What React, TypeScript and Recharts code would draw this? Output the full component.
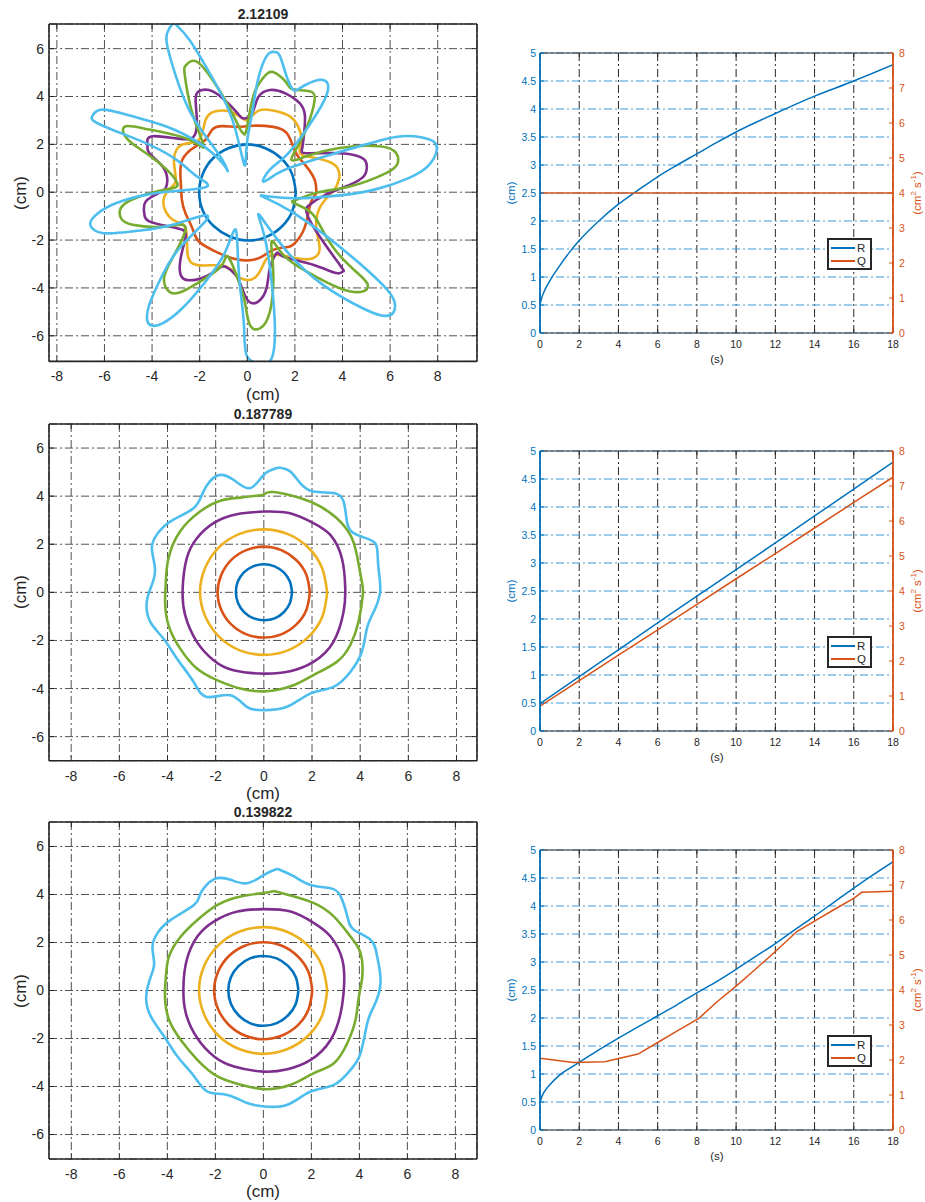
import React from "react";
import { LineChart, Line, XAxis, YAxis, CartesianGrid } from "recharts";

type Pt = [number, number];

const C = ["#0072BD", "#D95319", "#EDB120", "#7E2F8E", "#77AC30", "#4DBEEE"];
const INK = "#262626";
const FONT = "'Liberation Sans', Arial, Helvetica, sans-serif";

// ---- left column: outlines (cm) ----
const TITLES = ["2.12109", "0.187789", "0.139822"];
const XT_SHAPE = [-8, -6, -4, -2, 0, 2, 4, 6, 8];
const YT_SHAPE = [-6, -4, -2, 0, 2, 4, 6];

const TOP_BLUE_R = [2.04, 2.03, 2.01, 1.99, 2.0, 2.0, 2.02, 2.02, 2.02, 2.02, 2.0, 1.99, 2.02, 2.03, 2.04, 2.05];
const TOP_ORANGE: Pt[] = [
  [2.9, -0.04], [2.83, 0.52], [2.48, 1.08], [2.13, 1.5], [1.92, 1.92], [1.65, 2.48], [1.09, 2.73],
  [0.25, 2.78], [-0.36, 2.73], [-1.05, 2.76], [-1.47, 2.62], [-1.75, 2.2], [-2.17, 1.92], [-2.73, 1.36],
  [-2.8, 0.52], [-2.75, -0.3], [-2.59, -0.9], [-2.31, -1.5], [-2.03, -2.06], [-1.33, -2.48], [-0.64, -2.76],
  [0.04, -2.85], [0.6, -2.7], [1.09, -2.41], [1.6, -2.3], [1.92, -2.2], [2.34, -1.64], [2.55, -0.94], [2.69, -0.38],
];
const TOP_YELLOW: Pt[] = [
  [3.88, 0.66], [3.74, 1.08], [3.18, 1.36], [2.48, 1.5], [2.2, 1.71], [2.27, 2.2], [2.13, 2.76], [1.79, 3.17],
  [1.23, 3.38], [0.53, 3.43], [0.06, 3.05], [-0.22, 3.1], [-0.78, 3.38], [-1.33, 3.38], [-1.75, 3.03],
  [-2.03, 2.2], [-2.73, 1.99], [-3.08, 1.36], [-3.0, 0.52], [-3.22, 0.18], [-3.5, -0.24], [-3.43, -0.8],
  [-3.0, -1.22], [-2.59, -1.5], [-2.52, -2.48], [-2.31, -2.97], [-1.75, -3.06], [-0.9, -3.1], [-0.4, -3.5],
  [0.04, -3.67], [0.4, -3.5], [0.67, -3.03], [1.09, -2.62], [2.06, -2.76], [2.76, -2.76], [3.04, -2.34],
  [2.9, -1.5], [3.04, -0.66], [3.46, -0.11], [3.74, 0.24],
];
const TOP_PURPLE: Pt[] = [
  [4.3, 0.3], [4.85, 0.62], [5.02, 1.0], [4.92, 1.36], [4.43, 1.57], [3.6, 1.64], [2.49, 1.63], [2.3, 1.8],
  [2.38, 2.4], [2.42, 3.2], [2.2, 3.72], [1.6, 4.13], [0.95, 4.27], [0.45, 3.95], [0.2, 3.3], [-0.17, 3.08],
  [-0.45, 3.35], [-1.05, 3.94], [-1.61, 4.27], [-2.03, 4.22], [-2.17, 3.87], [-2.12, 3.03], [-2.2, 2.4],
  [-2.73, 2.22], [-3.98, 2.34], [-4.19, 1.99], [-4.12, 1.64], [-3.56, 1.08], [-3.36, 0.52], [-3.43, 0.17],
  [-3.7, -0.03], [-4.26, -0.38], [-4.33, -0.87], [-4.12, -1.22], [-3.29, -1.43], [-2.7, -1.58], [-2.6, -1.92],
  [-2.8, -2.76], [-2.8, -3.45], [-2.45, -3.68], [-1.75, -3.52], [-1.19, -3.17], [-0.9, -3.12], [-0.5, -3.45],
  [-0.22, -4.01], [0.05, -4.55], [0.46, -4.57], [0.81, -4.01], [0.95, -3.17], [1.23, -2.55], [1.51, -2.69],
  [2.76, -3.03], [3.74, -3.38], [4.02, -3.31], [3.88, -3.03], [2.9, -1.64], [2.48, -0.8], [2.62, -0.52], [3.2, -0.15],
];
const TOP_GREEN: Pt[] = [
  [1.85, -0.4], [3.0, 0.0], [4.3, 0.24], [5.83, 0.8], [6.32, 1.22], [6.25, 1.64], [5.55, 1.92], [3.88, 1.85],
  [2.48, 1.5], [1.85, 1.36], [2.2, 2.06], [2.62, 3.03], [2.83, 3.87], [2.62, 4.22], [1.92, 4.29], [1.65, 4.57],
  [1.09, 5.02], [0.67, 4.78], [0.25, 4.01], [-0.03, 2.62], [-0.15, 2.45], [-0.29, 2.62], [-0.78, 3.59],
  [-1.47, 4.71], [-2.15, 5.47], [-2.58, 5.3], [-2.62, 4.85], [-2.31, 3.31], [-1.82, 1.92], [-2.45, 2.2],
  [-4.12, 2.62], [-5.1, 2.76], [-5.17, 2.41], [-4.68, 1.92], [-3.7, 1.22], [-2.94, 0.38], [-3.43, 0.11],
  [-4.68, -0.24], [-5.31, -0.66], [-5.31, -1.08], [-4.82, -1.36], [-3.43, -1.43], [-2.59, -1.5], [-3.15, -2.76],
  [-3.5, -3.59], [-3.29, -4.15], [-2.73, -4.15], [-1.75, -3.59], [-1.05, -3.03], [-0.8, -2.7], [-0.36, -3.73],
  [-0.08, -4.71], [0.11, -5.55], [0.53, -5.69], [0.95, -4.99], [1.09, -3.31], [1.02, -2.06], [1.51, -2.62],
  [2.48, -3.31], [3.88, -4.01], [4.85, -4.15], [5.06, -3.87], [4.71, -3.45], [3.74, -2.48], [3.04, -1.36], [2.62, -0.8],
];
const TOP_LIGHT: Pt[] = [
  [0.53, -0.13], [2.0, -0.25], [4.0, -0.12], [5.5, 0.15], [6.8, 0.6], [7.6, 1.1], [7.95, 1.7], [7.85, 2.1],
  [7.3, 2.3], [6.3, 2.32], [5.0, 2.0], [3.6, 1.6], [2.0, 1.1], [1.2, 0.75], [0.67, 0.44], [0.95, 0.94],
  [1.65, 1.55], [2.48, 2.62], [3.25, 3.87], [3.39, 4.5], [3.25, 4.67], [2.97, 4.69], [2.48, 4.5], [2.13, 4.3],
  [1.92, 4.29], [1.65, 4.85], [1.37, 5.69], [1.16, 5.86], [0.95, 5.83], [0.67, 5.41], [0.39, 4.43], [0.18, 3.17],
  [-0.03, 1.92], [-0.12, 1.14], [-0.5, 2.62], [-1.05, 4.01], [-1.75, 5.27], [-2.45, 6.39], [-2.94, 6.95],
  [-3.15, 7.02], [-3.36, 6.67], [-3.36, 6.11], [-3.0, 4.85], [-2.45, 3.45], [-1.75, 2.34], [-1.05, 1.36],
  [-0.82, 0.88], [-1.05, 1.22], [-2.03, 2.06], [-3.43, 2.76], [-4.82, 3.17], [-6.08, 3.45], [-6.5, 3.2],
  [-6.43, 2.96], [-5.52, 2.55], [-4.12, 1.99], [-2.9, 1.3], [-2.1, 0.65], [-1.7, 0.23], [-3.0, 0.05],
  [-4.2, -0.1], [-5.5, -0.45], [-6.3, -0.9], [-6.6, -1.3], [-6.4, -1.6], [-5.8, -1.72], [-4.5, -1.6],
  [-3.1, -1.35], [-1.65, -1.0], [-2.73, -2.2], [-3.56, -3.45], [-4.12, -4.71], [-4.19, -5.41], [-3.98, -5.58],
  [-3.56, -5.48], [-2.73, -4.85], [-1.75, -3.73], [-0.92, -2.48], [-0.48, -1.57], [-0.36, -3.31], [-0.15, -5.41],
  [-0.03, -6.81], [0.53, -7.16], [1.02, -6.95], [1.16, -5.69], [1.02, -3.73], [0.74, -1.92], [0.46, -0.94],
  [0.81, -1.36], [1.79, -2.62], [3.18, -3.87], [4.85, -4.85], [5.69, -5.16], [6.11, -5.06], [6.18, -4.57],
  [5.69, -3.87], [4.3, -2.62], [2.48, -1.22], [1.3, -0.5],
];

const MID_BLUE_R = [1.17, 1.17, 1.17, 1.17, 1.17, 1.17, 1.17, 1.17, 1.16, 1.16, 1.16, 1.16, 1.16, 1.17, 1.17, 1.17];
const MID_ORANGE_R = [1.91, 1.91, 1.9, 1.9, 1.9, 1.9, 1.91, 1.91, 1.92, 1.91, 1.9, 1.89, 1.88, 1.89, 1.9, 1.91];
const MID_YELLOW_R = [2.63, 2.62, 2.62, 2.62, 2.62, 2.63, 2.64, 2.64, 2.65, 2.63, 2.62, 2.61, 2.6, 2.61, 2.62, 2.63];
const MID_PURPLE: Pt[] = [
  [0.06, 3.36], [1.09, 3.29], [2.06, 2.88], [2.76, 2.39], [3.24, 1.42], [3.38, 0.17], [3.31, -0.81],
  [2.89, -2.06], [2.06, -2.89], [1.09, -3.28], [0, -3.38], [-1.26, -3.24], [-2.09, -2.82], [-2.78, -2.06],
  [-3.27, -0.94], [-3.37, 0.17], [-3.2, 1.42], [-2.78, 2.25], [-2.09, 2.88], [-1.12, 3.25],
];
const MID_GREEN: Pt[] = [
  [0, 4.06], [0.4, 4.17], [1.51, 3.92], [2.34, 3.57], [3.03, 3.08], [3.59, 2.39], [3.86, 1.56], [4.07, 0.44],
  [4.11, -0.11], [3.93, -1.22], [3.59, -2.19], [3.03, -2.89], [2.06, -3.44], [1.23, -3.86], [0.12, -4.11],
  [-0.98, -4.0], [-1.95, -3.65], [-2.78, -3.17], [-3.48, -2.33], [-3.96, -1.36], [-4.1, -0.39], [-4.07, 0.44],
  [-3.96, 1.42], [-3.48, 2.53], [-2.65, 3.36], [-1.81, 3.81], [-0.98, 3.94],
];
const MID_LIGHT: Pt[] = [
  [0.61, 5.19], [0, 4.89], [-0.57, 4.33], [-1.26, 4.68], [-1.95, 4.85], [-2.51, 4.19], [-2.92, 3.5],
  [-3.89, 2.94], [-4.45, 2.39], [-4.65, 1.83], [-4.52, 1.0], [-4.65, 0.31], [-4.86, -0.39], [-4.72, -1.22],
  [-4.17, -1.92], [-3.61, -2.75], [-2.92, -3.72], [-2.37, -4.35], [-1.4, -4.28], [-0.71, -4.76], [0, -4.9],
  [0.96, -4.76], [1.93, -4.21], [2.89, -3.93], [3.59, -3.31], [4.07, -2.47], [4.28, -1.5], [4.56, -0.81],
  [4.83, 0.03], [4.76, 1.0], [4.7, 1.83], [4.42, 2.18], [3.73, 2.46], [3.45, 2.94], [3.31, 3.78], [2.89, 4.13],
  [2.06, 4.19], [1.51, 4.54], [1.09, 5.03],
];

const BOT_BLUE_R = [1.46, 1.46, 1.45, 1.45, 1.44, 1.45, 1.45, 1.46, 1.46, 1.46, 1.46, 1.47, 1.47, 1.47, 1.46, 1.46];
const BOT_ORANGE_R = [2.04, 2.03, 2.02, 2.02, 2.01, 2.02, 2.03, 2.04, 2.05, 2.04, 2.03, 2.03, 2.03, 2.03, 2.04, 2.04];
const BOT_YELLOW_R = [2.66, 2.65, 2.64, 2.64, 2.64, 2.65, 2.66, 2.67, 2.68, 2.66, 2.65, 2.64, 2.64, 2.64, 2.65, 2.66];
const BOT_PURPLE: Pt[] = [
  [0, 3.39], [1.14, 3.29], [2.11, 2.81], [2.8, 2.25], [3.29, 1.28], [3.36, 0.17], [3.22, -0.94], [2.8, -2.06],
  [1.97, -2.89], [1.0, -3.28], [0, -3.38], [-1.22, -3.17], [-2.05, -2.75], [-2.75, -1.99], [-3.23, -0.94],
  [-3.33, 0.17], [-3.19, 1.28], [-2.75, 2.25], [-2.05, 2.88], [-1.08, 3.29],
];
const BOT_GREEN: Pt[] = [
  [0.44, 4.15], [0, 4.06], [-0.94, 3.92], [-1.91, 3.57], [-2.75, 2.94], [-3.44, 2.25], [-3.93, 1.42],
  [-4.06, 0.58], [-4.1, -0.25], [-3.93, -1.22], [-3.44, -2.06], [-2.75, -2.89], [-1.91, -3.58], [-0.94, -3.93],
  [0.03, -4.11], [1.14, -3.93], [2.11, -3.44], [2.94, -3.03], [3.5, -2.19], [3.84, -1.22], [3.98, -0.25],
  [4.12, 0.58], [4.05, 1.56], [3.63, 2.25], [2.94, 3.08], [2.11, 3.64], [1.28, 3.92],
];
const BOT_LIGHT: Pt[] = [
  [0.58, 5.07], [0.03, 4.82], [-0.67, 4.47], [-1.36, 4.61], [-2.05, 4.64], [-2.61, 4.06], [-2.88, 3.57],
  [-3.86, 2.94], [-4.41, 2.39], [-4.62, 1.83], [-4.55, 1.14], [-4.69, 0.58], [-4.88, -0.25], [-4.69, -1.08],
  [-4.13, -1.92], [-3.58, -2.75], [-2.88, -3.58], [-2.33, -4.21], [-1.5, -4.35], [-0.67, -4.69], [0.03, -4.83],
  [1.0, -4.76], [1.97, -4.21], [2.94, -3.93], [3.63, -3.31], [4.05, -2.61], [4.33, -1.36], [4.6, -0.67],
  [4.88, 0.31], [4.74, 1.42], [4.47, 2.11], [3.77, 2.53], [3.5, 3.08], [3.22, 3.92], [2.8, 4.26], [1.97, 4.4],
  [1.28, 4.75],
];

// ---- right column: R (cm) and Q (cm^2 s^-1) against time (s) ----
const XT_TIME = [0, 2, 4, 6, 8, 10, 12, 14, 16, 18];
const YT_R = [0, 0.5, 1, 1.5, 2, 2.5, 3, 3.5, 4, 4.5, 5];
const YT_Q = [0, 1, 2, 3, 4, 5, 6, 7, 8];

const T1 = [0, 0.1, 0.25, 0.5, 1, 1.5, 2, 3, 4, 5, 6, 7, 8, 9, 10, 12, 14, 16, 18];
const R1 = [0.5, 0.64, 0.77, 0.93, 1.2, 1.44, 1.65, 2.0, 2.3, 2.55, 2.79, 3.0, 3.2, 3.4, 3.59, 3.92, 4.23, 4.5, 4.79];
const QT1 = [0, 18];
const Q1 = [4, 4];

const T2 = [0, 2, 4, 6, 8, 10, 12, 14, 16, 18];
const R2 = [0.49, 0.97, 1.45, 1.93, 2.41, 2.88, 3.36, 3.84, 4.32, 4.8];
const Q2 = [0.71, 1.44, 2.17, 2.89, 3.62, 4.35, 5.07, 5.8, 6.53, 7.25];

const T3 = [0, 0.1, 0.25, 0.5, 1, 1.5, 2, 3, 4, 5, 6, 7, 8, 9, 10, 11, 12, 13, 14, 15, 16, 17, 18];
const R3 = [0.5, 0.6, 0.7, 0.81, 0.98, 1.1, 1.21, 1.43, 1.64, 1.84, 2.04, 2.24, 2.45, 2.65, 2.87, 3.1, 3.33, 3.58, 3.82, 4.07, 4.32, 4.56, 4.79];
const QT3 = [0, 1.7, 3.3, 5, 6, 7, 8.1, 9, 10, 11, 12, 13.1, 14, 15, 16, 16.4, 18];
const Q3 = [2.05, 1.93, 1.95, 2.17, 2.5, 2.83, 3.19, 3.65, 4.11, 4.6, 5.1, 5.67, 5.97, 6.3, 6.62, 6.79, 6.82];

// radii read at evenly spaced angles -> points
const ring = (r: number[]): Pt[] =>
  r.map((v, i) => {
    const a = (2 * Math.PI * i) / r.length;
    return [v * Math.cos(a), v * Math.sin(a)] as Pt;
  });
const closed = (p: Pt[]) => [...p, p[0]].map(([x, y]) => ({ x, y }));
const series = (t: number[], v: number[]) => t.map((tt, i) => ({ t: tt, v: v[i] }));

const Txt = ({ x, y, size, color = INK, bold = false, rot = 0, children }: any) => (
  <div
    style={{
      position: "absolute",
      left: x,
      top: y,
      transform: `translate(-50%, -50%) rotate(${rot}deg)`,
      fontFamily: FONT,
      fontSize: size,
      fontWeight: bold ? "bold" : "normal",
      color,
      whiteSpace: "nowrap",
      lineHeight: 1,
    }}
  >
    {children}
  </div>
);

function ShapePanel({ top, bottom, xDomain, yDomain, curves, title }: any) {
  const h = bottom - top;
  const tickStyle = { fill: INK, fontSize: 14, fontFamily: FONT };
  return (
    <>
      <div style={{ position: "absolute", left: 0, top: top - 30 }}>
        <LineChart width={490} height={h + 55} margin={{ top: 29, right: 12, bottom: 1, left: 14 }}>
          <CartesianGrid stroke={INK} strokeOpacity={0.8} strokeDasharray="8 3 2 3" />
          <XAxis type="number" dataKey="x" domain={xDomain} allowDataOverflow ticks={XT_SHAPE}
            tickSize={-5} tickMargin={15} height={24} stroke={INK} axisLine={{ strokeWidth: 1.6 }} tick={tickStyle} />
          <XAxis xAxisId="top" orientation="top" type="number" dataKey="x" domain={xDomain} allowDataOverflow
            ticks={XT_SHAPE} tickSize={-5} height={1} stroke={INK} axisLine={{ strokeWidth: 1.6 }} tickFormatter={() => ""} />
          <YAxis type="number" domain={yDomain} allowDataOverflow ticks={YT_SHAPE} tickSize={-5} tickMargin={10}
            width={35} stroke={INK} axisLine={{ strokeWidth: 1.6 }} tick={tickStyle} />
          <YAxis yAxisId="r" orientation="right" type="number" domain={yDomain} allowDataOverflow ticks={YT_SHAPE}
            tickSize={-5} width={1} stroke={INK} axisLine={{ strokeWidth: 1.6 }} tickFormatter={() => ""} />
          {curves.map((c: Pt[], i: number) => (
            <Line key={i} data={closed(c)} dataKey="y" type="natural" stroke={C[i]} strokeWidth={2.6}
              dot={false} isAnimationActive={false} />
          ))}
        </LineChart>
      </div>
      <Txt x={263} y={top - 10} size={14} bold>{title}</Txt>
      <Txt x={263} y={bottom + 32} size={17}>(cm)</Txt>
      <Txt x={20} y={(top + bottom) / 2} size={17} rot={-90}>(cm)</Txt>
    </>
  );
}

function RatePanel({ top, r, q }: any) {
  const h = 280;
  const tick = (fill: string) => ({ fill, fontSize: 10.5, fontFamily: FONT });
  const lt = Math.round(top + 185);
  return (
    <>
      <div style={{ position: "absolute", left: 500, top: top - 10 }}>
        <LineChart width={425} height={h + 30} margin={{ top: 9, right: 8, bottom: 0, left: 8 }}>
          <CartesianGrid yAxisId="left" horizontal={false} stroke={INK} strokeDasharray="8 3 2 3" />
          <CartesianGrid yAxisId="left" vertical={false} stroke="#3d9ade" strokeDasharray="8 3 2 3" />
          <XAxis type="number" dataKey="t" domain={[0, 18]} allowDataOverflow ticks={XT_TIME} tickSize={-4}
            tickMargin={12} height={20} stroke={INK} tick={tick(INK)} />
          <XAxis xAxisId="top" orientation="top" type="number" dataKey="t" domain={[0, 18]} allowDataOverflow
            ticks={XT_TIME} tickSize={-4} height={1} stroke={INK} tickFormatter={() => ""} />
          <YAxis yAxisId="left" type="number" domain={[0, 5]} allowDataOverflow ticks={YT_R} tickSize={-4}
            tickMargin={8} width={32} stroke={C[0]} axisLine={{ strokeWidth: 1.8 }} tick={tick(C[0])} />
          <YAxis yAxisId="right" orientation="right" type="number" domain={[0, 8]} allowDataOverflow ticks={YT_Q}
            tickSize={-4} tickMargin={10} width={24} stroke={C[1]} axisLine={{ strokeWidth: 1.8 }} tick={tick(C[1])} />
          <Line yAxisId="left" data={r} dataKey="v" type="monotone" stroke={C[0]} strokeWidth={1.5} dot={false}
            isAnimationActive={false} />
          <Line yAxisId="right" data={q} dataKey="v" type="linear" stroke={C[1]} strokeWidth={1.5} dot={false}
            isAnimationActive={false} />
        </LineChart>
      </div>
      <Txt x={717} y={top + 307} size={11.5}>(s)</Txt>
      <Txt x={511.5} y={top + 140} size={11.5} color={C[0]} rot={-90}>(cm)</Txt>
      <Txt x={917} y={top + 140} size={11.5} color={C[1]} rot={-90}>
        (cm<sup style={{ fontSize: 8 }}>2</sup> s<sup style={{ fontSize: 8 }}>-1</sup>)
      </Txt>
      <div style={{ position: "absolute", left: 827, top: lt, width: 41, height: 28, border: `2px solid ${INK}`,
        background: "#fff", fontFamily: FONT, fontSize: 11.5, color: INK }}>
        {[["R", C[0], 7], ["Q", C[1], 20]].map(([name, col, y]: any) => (
          <React.Fragment key={name}>
            <div style={{ position: "absolute", left: 2, top: y, width: 24, height: 2, background: col }} />
            <div style={{ position: "absolute", left: 28, top: y - 5, lineHeight: "13px" }}>{name}</div>
          </React.Fragment>
        ))}
      </div>
    </>
  );
}

export default function App() {
  return (
    <div style={{ position: "absolute", left: 0, top: 0, width: 925, height: 1202, background: "#fff" }}>
      <ShapePanel top={24.3} bottom={361.7} xDomain={[-8.33, 9.65]} yDomain={[-7.07, 7.03]} title={TITLES[0]}
        curves={[ring(TOP_BLUE_R), TOP_ORANGE, TOP_YELLOW, TOP_PURPLE, TOP_GREEN, TOP_LIGHT]} />
      <ShapePanel top={424} bottom={760.7} xDomain={[-8.92, 8.85]} yDomain={[-7, 7]} title={TITLES[1]}
        curves={[ring(MID_BLUE_R), ring(MID_ORANGE_R), ring(MID_YELLOW_R), MID_PURPLE, MID_GREEN, MID_LIGHT]} />
      <ShapePanel top={822.3} bottom={1159.3} xDomain={[-8.93, 8.9]} yDomain={[-7.02, 7.02]} title={TITLES[2]}
        curves={[ring(BOT_BLUE_R), ring(BOT_ORANGE_R), ring(BOT_YELLOW_R), BOT_PURPLE, BOT_GREEN, BOT_LIGHT]} />
      <RatePanel top={52.7} r={series(T1, R1)} q={series(QT1, Q1)} />
      <RatePanel top={451.3} r={series(T2, R2)} q={series(T2, Q2)} />
      <RatePanel top={850} r={series(T3, R3)} q={series(QT3, Q3)} />
    </div>
  );
}
